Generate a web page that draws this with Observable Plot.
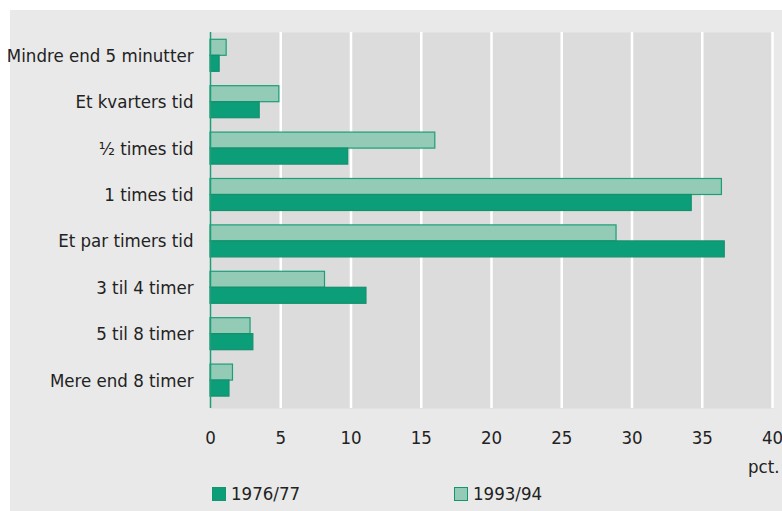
<!DOCTYPE html>
<html>
<head>
<meta charset="utf-8">
<script src="https://cdn.jsdelivr.net/npm/d3@7"></script>
<script src="https://cdn.jsdelivr.net/npm/@observablehq/plot@0.6"></script>
<style>
  html, body { margin: 0; padding: 0; background: #ffffff; }
  #panel { position: absolute; left: 10px; top: 10px; width: 772px; height: 501px; background: #e9e9e9;
    font-family: "DejaVu Sans Condensed", "Liberation Sans Narrow", sans-serif; color: #222; }
  #chart { position: absolute; left: 0; top: 0; }
  .legend { position: absolute; top: 473px; font-size: 18.5px; display: flex; align-items: center; }
  .sw { width: 12px; height: 12px; margin-right: 5px; border: 1px solid #15956f; }
</style>
</head>
<body>
<div id="panel">
  <div id="chart"></div>
  <div class="legend" style="left:202px"><span class="sw" style="background:#0c9e78"></span><span>1976/77</span></div>
  <div class="legend" style="left:444px"><span class="sw" style="background:#93cbb6"></span><span>1993/94</span></div>
</div>
<script>
const categories = ["Mindre end 5 minutter", "Et kvarters tid", "½ times tid", "1 times tid", "Et par timers tid", "3 til 4 timer", "5 til 8 timer", "Mere end 8 timer"];
const v1976 = [0.65, 3.5, 9.8, 34.25, 36.6, 11.1, 3.05, 1.35];
const v1993 = [1.15, 4.9, 16.0, 36.4, 28.9, 8.15, 2.85, 1.6];
const xTicks = [0, 5, 10, 15, 20, 25, 30, 35, 40];
const seriesNames = ["1976/77", "1993/94"];

const rows1976 = categories.map((c, i) => ({category: c, value: v1976[i], series: seriesNames[0]}));
const rows1993 = categories.map((c, i) => ({category: c, value: v1993[i], series: seriesNames[1]}));

const W = 772, H = 470, mT = 22, mB = 72, mL = 200, mR = 10;
const padInner = 0.31, padOuter = 0.207;
const step = (H - mT - mB) / (categories.length - padInner + 2 * padOuter);
const half = step * (1 - padInner) / 2;

const font = '"DejaVu Sans Condensed", "Liberation Sans Narrow", sans-serif';

const chart = Plot.plot({
  width: W, height: H,
  marginTop: mT, marginBottom: mB, marginLeft: mL, marginRight: mR,
  style: {background: "transparent", fontFamily: font, fontSize: "18.5px", color: "#222", overflow: "visible"},
  x: {domain: [0, 40]},
  y: {domain: categories, paddingInner: padInner, paddingOuter: padOuter, align: 0.38, round: false},
  marks: [
    Plot.frame({fill: "#dcdcdc", stroke: null}),
    Plot.ruleX(xTicks.filter(d => d > 0), {stroke: "#ffffff", strokeWidth: 2.5}),
    Plot.barX(rows1993, {x: "value", y: "category", fill: "#93cbb6", stroke: "#1d9e77", strokeWidth: 1.2, insetBottom: half}),
    Plot.barX(rows1976, {x: "value", y: "category", fill: "#0c9e78", stroke: "#13906c", strokeWidth: 1.2, insetTop: half}),
    Plot.ruleX([0], {stroke: "#1d9e77", strokeWidth: 1.5}),
    Plot.axisY({tickSize: 0, tickPadding: 17, label: null, fontSize: 18.5}),
    Plot.axisX({ticks: xTicks, tickSize: 0, tickPadding: 22, fontSize: 18.5, label: "pct.", labelAnchor: "right", labelArrow: "none", labelOffset: 64})
  ]
});
document.getElementById("chart").appendChild(chart);
</script>
</body>
</html>
